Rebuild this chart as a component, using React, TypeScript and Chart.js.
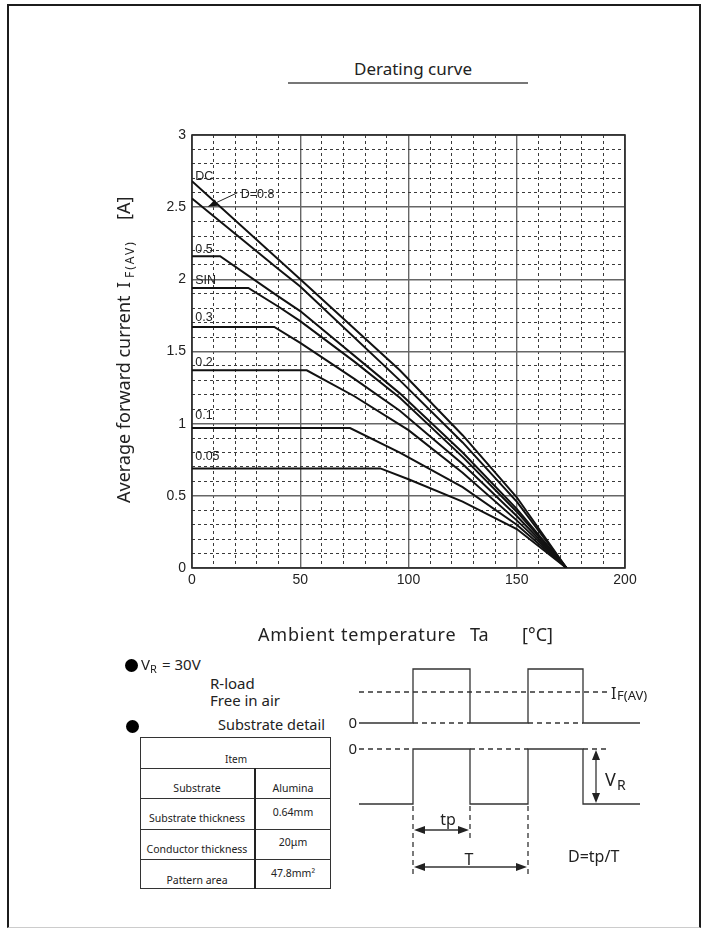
import React, { useEffect, useRef } from 'react';
import { Chart, registerables } from 'chart.js';

Chart.register(...registerables);

// ---- data ----
const seriesNames = ['DC', 'D=0.8', '0.5', 'SIN', '0.3', '0.2', '0.1', '0.05'];

const dcTemp = [0, 50, 96, 125, 150, 173];
const dcCurrent = [2.68, 2.0, 1.37, 0.92, 0.49, 0];
const d08Temp = [0, 40, 50, 96, 125, 150, 173];
const d08Current = [2.56, 2.07, 1.95, 1.3, 0.87, 0.46, 0];
const d05Temp = [0, 13, 40, 50, 96, 125, 150, 173];
const d05Current = [2.16, 2.16, 1.88, 1.78, 1.21, 0.8, 0.41, 0];
const sinTemp = [0, 26, 40, 50, 75, 96, 125, 150, 173];
const sinCurrent = [1.94, 1.94, 1.81, 1.71, 1.43, 1.18, 0.77, 0.39, 0];
const d03Temp = [0, 38, 50, 75, 96, 125, 150, 173];
const d03Current = [1.67, 1.67, 1.56, 1.31, 1.09, 0.72, 0.36, 0];
const d02Temp = [0, 53, 75, 100, 125, 150, 173];
const d02Current = [1.37, 1.37, 1.19, 0.955, 0.66, 0.33, 0];
const d01Temp = [0, 73, 96, 125, 150, 173];
const d01Current = [0.97, 0.97, 0.8, 0.56, 0.3, 0];
const d005Temp = [0, 87, 100, 125, 150, 173];
const d005Current = [0.69, 0.69, 0.615, 0.46, 0.27, 0];

const seriesTemps = [dcTemp, d08Temp, d05Temp, sinTemp, d03Temp, d02Temp, d01Temp, d005Temp];
const seriesCurrents = [dcCurrent, d08Current, d05Current, sinCurrent, d03Current, d02Current, d01Current, d005Current];

// curve labels, anchored in data units
const labelTexts = ['DC', 'D=0.8', '0.5', 'SIN', '0.3', '0.2', '0.1', '0.05'];
const labelTemp = [1.5, 22.5, 1.5, 1.5, 1.5, 1.5, 1.5, 1.5];
const labelCurrent = [2.69, 2.565, 2.18, 1.97, 1.71, 1.4, 1.035, 0.745];
const leaderFrom = [21, 2.6];
const leaderTo = [7.5, 2.505];

const xMin = 0;
const xMax = 200;
const xMajor = 50;
const xMinor = 10;
const yMin = 0;
const yMax = 3;
const yMajor = 0.5;
const yMinor = 0.1;

const isMajor = (v: number, step: number) => Math.abs(v / step - Math.round(v / step)) < 1e-6;

const annotPlugin = {
  id: 'annot',
  beforeDatasetsDraw(chart: any) {
    const { ctx, chartArea: a } = chart;
    ctx.save();
    ctx.strokeStyle = '#2a2a2a';
    ctx.lineWidth = 1.6;
    ctx.strokeRect(a.left, a.top, a.right - a.left, a.bottom - a.top);
    ctx.restore();
  },
  afterDatasetsDraw(chart: any) {
    const { ctx } = chart;
    const xs = chart.scales.x;
    const ys = chart.scales.y;
    ctx.save();
    ctx.font = '12.5px "Liberation Sans", Arial, sans-serif';
    ctx.fillStyle = '#222';
    ctx.textBaseline = 'alphabetic';
    labelTexts.forEach((t, i) => {
      ctx.fillText(t, xs.getPixelForValue(labelTemp[i]), ys.getPixelForValue(labelCurrent[i]));
    });
    const x1 = xs.getPixelForValue(leaderFrom[0]);
    const y1 = ys.getPixelForValue(leaderFrom[1]);
    const x2 = xs.getPixelForValue(leaderTo[0]);
    const y2 = ys.getPixelForValue(leaderTo[1]);
    ctx.strokeStyle = '#222';
    ctx.lineWidth = 1;
    ctx.beginPath();
    ctx.moveTo(x1, y1);
    ctx.lineTo(x2, y2);
    ctx.stroke();
    const ang = Math.atan2(y2 - y1, x2 - x1);
    const L = 9;
    const W = 3.5;
    ctx.beginPath();
    ctx.moveTo(x2, y2);
    ctx.lineTo(x2 - L * Math.cos(ang) + W * Math.sin(ang), y2 - L * Math.sin(ang) - W * Math.cos(ang));
    ctx.lineTo(x2 - L * Math.cos(ang) - W * Math.sin(ang), y2 - L * Math.sin(ang) + W * Math.cos(ang));
    ctx.closePath();
    ctx.fillStyle = '#111';
    ctx.fill();
    ctx.restore();
  },
};

const NOTO = '"Noto Sans", "DejaVu Sans", sans-serif';

function Txt(props: { x: number; y: number; size: number; anchor?: string; children: any; style?: any }) {
  const { x, y, size, anchor = 'start', children, style } = props;
  const tx = anchor === 'middle' ? '-50%' : anchor === 'end' ? '-100%' : '0';
  return (
    <div
      style={{
        position: 'absolute',
        left: x,
        top: y - 1.069 * size,
        fontSize: size,
        lineHeight: 1.362,
        whiteSpace: 'nowrap',
        transform: `translateX(${tx})`,
        ...style,
      }}
    >
      {children}
    </div>
  );
}

const tableRows = [
  { left: 'Substrate', right: 'Alumina' },
  { left: 'Substrate thickness', right: '0.64mm' },
  { left: 'Conductor thickness', right: '20μm' },
  { left: 'Pattern area', right: '47.8mm²' },
];

export default function App() {
  const ref = useRef<HTMLCanvasElement>(null);

  useEffect(() => {
    const chart = new Chart(ref.current as HTMLCanvasElement, {
      type: 'line',
      data: {
        datasets: seriesNames.map((n, i) => ({
          label: n,
          data: seriesTemps[i].map((t, j) => ({ x: t, y: seriesCurrents[i][j] })),
          borderColor: '#111',
          borderWidth: 2,
          pointRadius: 0,
          tension: 0,
          fill: false,
        })),
      },
      options: {
        animation: false,
        responsive: false,
        layout: { padding: { left: 0, right: 35, top: 25, bottom: 0 } },
        plugins: { legend: { display: false }, tooltip: { enabled: false } },
        scales: {
          x: {
            type: 'linear',
            min: xMin,
            max: xMax,
            afterFit: (s: any) => {
              s.height = 72;
            },
            ticks: {
              stepSize: xMinor,
              maxTicksLimit: 100,
              autoSkip: false,
              maxRotation: 0,
              padding: 4,
              color: '#222',
              font: { family: '"Liberation Sans", Arial, sans-serif', size: 14 },
              callback: (v: any) => (isMajor(Number(v), xMajor) ? String(Math.round(Number(v))) : ''),
            },
            grid: {
              drawTicks: false,
              color: (c: any) => (c.tick && isMajor(c.tick.value, xMajor) ? '#666' : '#3a3a3a'),
              lineWidth: (c: any) => (c.tick && isMajor(c.tick.value, xMajor) ? 1.4 : 1),
            },
            border: {
              display: false,
              dash: (c: any) => (c.tick && !isMajor(c.tick.value, xMajor) ? [3, 3] : []),
            },
          },
          y: {
            type: 'linear',
            min: yMin,
            max: yMax,
            afterFit: (s: any) => {
              s.width = 92;
            },
            ticks: {
              stepSize: yMinor,
              maxTicksLimit: 100,
              autoSkip: false,
              padding: 6,
              color: '#222',
              font: { family: '"Liberation Sans", Arial, sans-serif', size: 14 },
              callback: (v: any) => {
                const n = Number(v);
                if (!isMajor(n, yMajor)) return '';
                return String(Math.round(n * 10) / 10);
              },
            },
            grid: {
              drawTicks: false,
              color: (c: any) => (c.tick && isMajor(c.tick.value, yMajor) ? '#666' : '#3a3a3a'),
              lineWidth: (c: any) => (c.tick && isMajor(c.tick.value, yMajor) ? 1.4 : 1),
            },
            border: {
              display: false,
              dash: (c: any) => (c.tick && !isMajor(c.tick.value, yMajor) ? [3, 3] : []),
            },
          },
        },
      } as any,
      plugins: [annotPlugin],
    });
    return () => chart.destroy();
  }, []);

  const dash = '5 4';
  const stroke = '#333';

  return (
    <div
      style={{
        position: 'absolute',
        left: 0,
        top: 0,
        width: 708,
        height: 929,
        overflow: 'hidden',
        background: '#fff',
        fontFamily: NOTO,
        color: '#222',
      }}
    >
      {/* page frame */}
      <div
        style={{
          position: 'absolute',
          left: 7,
          top: 4,
          width: 694,
          height: 924,
          boxSizing: 'border-box',
          border: '2px solid #1c1c1c',
          borderBottom: '1px solid #ccc',
        }}
      />

      {/* title */}
      <Txt x={413} y={75} size={17} anchor="middle">
        Derating curve
      </Txt>
      <div style={{ position: 'absolute', left: 288, top: 82, width: 240, height: 1.5, background: '#777' }} />

      {/* chart */}
      <canvas
        ref={ref}
        width={560}
        height={530}
        style={{ position: 'absolute', left: 100, top: 110, width: 560, height: 530 }}
      />

      {/* y axis title */}
      <div
        style={{
          position: 'absolute',
          left: 111,
          top: 510,
          width: 320,
          height: 30,
          transformOrigin: '0 0',
          transform: 'rotate(-90deg)',
        }}
      >
        <Txt x={7} y={19.2} size={18}>
          Average forward current
        </Txt>
        <Txt x={222} y={19.2} size={18}>
          I
        </Txt>
        <Txt x={232} y={24} size={12} style={{ letterSpacing: 2 }}>
          F(AV)
        </Txt>
        <Txt x={290} y={19.2} size={18}>
          [A]
        </Txt>
      </div>

      {/* x axis title */}
      <Txt x={258} y={641} size={18} style={{ letterSpacing: 0.8 }}>
        Ambient temperature
      </Txt>
      <Txt x={470} y={641} size={18}>
        Ta
      </Txt>
      <Txt x={522} y={641} size={18}>
        [°C]
      </Txt>

      {/* conditions */}
      <div style={{ position: 'absolute', left: 125, top: 659, width: 13, height: 13, borderRadius: '50%', background: '#000' }} />
      <Txt x={141} y={670} size={15}>
        V
      </Txt>
      <Txt x={150} y={674} size={11}>
        R
      </Txt>
      <Txt x={162} y={670} size={15}>
        = 30V
      </Txt>
      <Txt x={210} y={689} size={15}>
        R-load
      </Txt>
      <Txt x={210} y={706} size={15}>
        Free in air
      </Txt>
      <div style={{ position: 'absolute', left: 126, top: 720, width: 13, height: 13, borderRadius: '50%', background: '#000' }} />
      <Txt x={218} y={731} size={14.5}>
        Substrate detail
      </Txt>

      {/* substrate table */}
      <div
        style={{
          position: 'absolute',
          left: 140,
          top: 737,
          width: 191,
          height: 152,
          boxSizing: 'border-box',
          border: '1px solid #333',
        }}
      />
      {[768, 798, 829, 859].map((yy) => (
        <div key={yy} style={{ position: 'absolute', left: 140, top: yy, width: 191, height: 1, background: '#333' }} />
      ))}
      <div style={{ position: 'absolute', left: 254, top: 768, width: 1.5, height: 121, background: '#222' }} />
      <Txt x={236} y={764} size={10} anchor="middle">
        Item
      </Txt>
      {tableRows.map((r, i) => (
        <React.Fragment key={r.left}>
          <Txt x={197} y={[792, 822, 853, 884][i]} size={10.5} anchor="middle">
            {r.left}
          </Txt>
          <Txt x={293} y={[792, 816, 846, 877][i]} size={10.5} anchor="middle">
            {r.right}
          </Txt>
        </React.Fragment>
      ))}

      {/* waveform diagram */}
      <svg
        width={708}
        height={929}
        style={{ position: 'absolute', left: 0, top: 0, pointerEvents: 'none' }}
        fontFamily={NOTO}
      >
        <g fill="none" stroke={stroke} strokeWidth={1.3}>
          <path d="M359,723 H413 V669 H470 V723 H528 V669 H583 V723 H640" />
          <path d="M413,723 H470 M528,723 H583" strokeDasharray={dash} />
          <path d="M359,692 H610" strokeDasharray={dash} />
          <path d="M359,804 H413 V749 H470 V804 H528 V749 H583 V804 H640" />
          <path d="M359,749 H413 M470,749 H528 M583,749 H610" strokeDasharray={dash} />
          <path d="M596,758 V796" />
          <path d="M413,806 V877 M470,806 V842 M528,806 V877" strokeDasharray={dash} />
          <path d="M422,830 H461" />
          <path d="M422,867 H519" />
        </g>
        <g fill="#222" stroke="none">
          <polygon points="596,750 592,760 600,760" />
          <polygon points="596,803 592,793 600,793" />
          <polygon points="414,830 425,826 425,834" />
          <polygon points="469,830 458,826 458,834" />
          <polygon points="414,867 425,863 425,871" />
          <polygon points="527,867 516,863 516,871" />
        </g>
        <g fill="#222">
          <text x={357} y={728} fontSize={15} textAnchor="end">0</text>
          <text x={357} y={754} fontSize={15} textAnchor="end">0</text>
          <text x={611} y={699} fontSize={16}>I</text>
          <text x={617} y={700} fontSize={13}>F(AV)</text>
          <text x={605} y={786} fontSize={18}>V</text>
          <text x={617} y={790} fontSize={14}>R</text>
          <text x={448} y={825} fontSize={16} textAnchor="middle">tp</text>
          <text x={469} y={865} fontSize={16} textAnchor="middle">T</text>
          <text x={568} y={862} fontSize={16}>D=tp/T</text>
        </g>
      </svg>
    </div>
  );
}
